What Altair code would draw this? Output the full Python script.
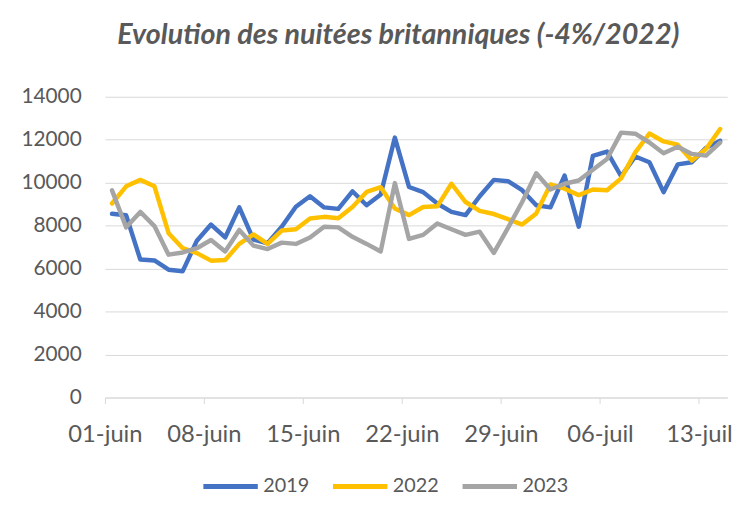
import altair as alt
import pandas as pd

tick_labels = ["01-juin", "08-juin", "15-juin", "22-juin", "29-juin", "06-juil", "13-juil"]
years = ["2019", "2022", "2023"]
colors = ["#4472C4", "#FFC000", "#A5A5A5"]

v2019 = [8550, 8480, 6420, 6380, 5950, 5880, 7300, 8050, 7450, 8850, 7350, 7180, 7950, 8880,
         9370, 8850, 8780, 9600, 8950, 9450, 12100, 9800, 9560, 9030, 8640, 8490, 9370, 10130,
         10070, 9650, 8950, 8850, 10330, 7950, 11250, 11450, 10300, 11220, 10950, 9560, 10850,
         10950, 11620, 11950]
v2022 = [9030, 9830, 10130, 9830, 7650, 6950, 6720, 6370, 6400, 7150, 7590, 7150, 7770, 7830,
         8330, 8410, 8340, 8870, 9570, 9790, 8800, 8490, 8870, 8900, 9950, 9100, 8690, 8540,
         8300, 8050, 8570, 9920, 9720, 9420, 9680, 9650, 10200, 11410, 12290, 11920, 11770,
         11030, 11570, 12500]
v2023 = [9640, 7920, 8640, 7980, 6650, 6750, 6950, 7330, 6800, 7800, 7070, 6910, 7210, 7150,
         7450, 7950, 7920, 7480, 7150, 6800, 9980, 7380, 7570, 8100, 7830, 7570, 7720, 6730,
         7900, 9100, 10440, 9680, 9950, 10100, 10600, 11100, 12330, 12280, 11870, 11370, 11670,
         11340, 11260, 11870]

rows = []
for y, vals in zip(years, [v2019, v2022, v2023]):
    for i, v in enumerate(vals):
        rows.append({"annee": y, "jour": i + 0.5, "nuitees": v})
df = pd.DataFrame(rows)

label_expr = "[" + ",".join("'%s'" % t for t in tick_labels) + "][datum.value / 7]"
FONT = "Lato, sans-serif"
GREY = "#595959"

chart = alt.Chart(df).mark_line(strokeWidth=4.5, strokeCap="round", strokeJoin="round").encode(
    x=alt.X("jour:Q", scale=alt.Scale(domain=[0, 44], nice=False, zero=False),
            axis=alt.Axis(values=[0, 7, 14, 21, 28, 35, 42], labelExpr=label_expr, title=None,
                          grid=False, domainColor="#D9D9D9", tickColor="#D9D9D9", tickSize=6,
                          labelPadding=19, labelFontSize=24, labelColor=GREY, labelFont=FONT,
                          labelFlush=False)),
    y=alt.Y("nuitees:Q", scale=alt.Scale(domain=[0, 14000], nice=False),
            axis=alt.Axis(values=list(range(0, 14001, 2000)), format="d", title=None,
                          domain=False, ticks=False, gridColor="#D9D9D9", labelPadding=24,
                          labelFontSize=21, labelColor=GREY, labelFont=FONT)),
    color=alt.Color("annee:N", scale=alt.Scale(domain=years, range=colors),
                    legend=alt.Legend(title=None, orient="none", direction="horizontal",
                                      legendX=97, legendY=364, symbolType="stroke",
                                      symbolStrokeWidth=5, symbolSize=3025, labelFontSize=20,
                                      labelColor=GREY, labelFont=FONT, columnPadding=13,
                                      labelOffset=3)),
).properties(
    width=629, height=304,
    title=alt.TitleParams("Evolution des nuitées britanniques (-4%/2022)", fontSize=29,
                          font=FONT, fontStyle="italic", fontWeight="bold", color=GREY,
                          anchor="middle", dx=-18, offset=36),
    autosize=alt.AutoSizeParams(type="none"),
    padding={"left": 98, "top": 87, "right": 19, "bottom": 110},
).configure_view(stroke=None)

chart.save("out.html", embed_options={"renderer": "svg", "actions": False})
